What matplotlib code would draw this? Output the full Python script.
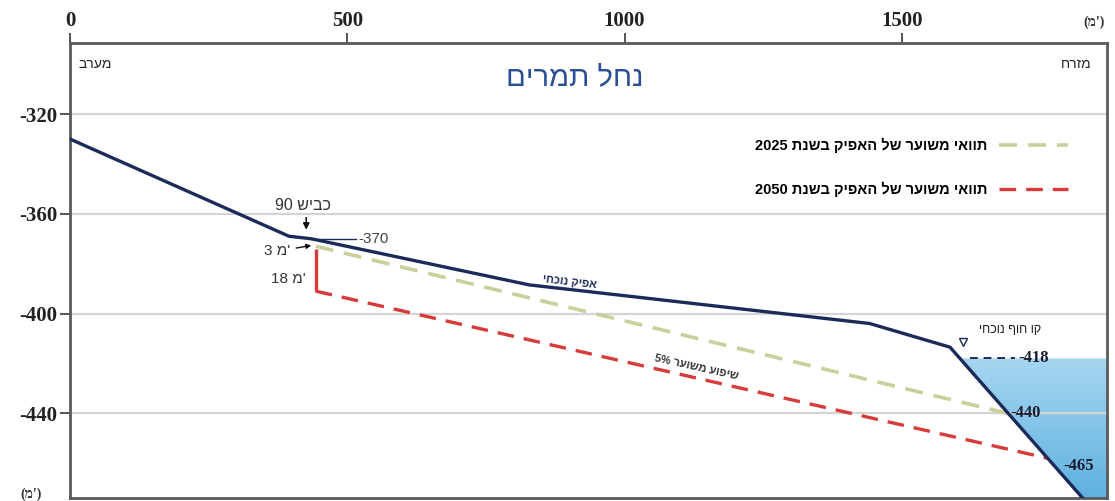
import re
import numpy as np
import matplotlib
matplotlib.use("Agg")
import matplotlib.pyplot as plt
from matplotlib.patches import Polygon
from matplotlib.lines import Line2D

# --- data (distance in m, elevation in m) ---
dist = np.array([0, 395, 435, 828, 1442, 1587, 1830])
bed_now = np.array([-330, -369, -370, -388.5, -404, -413.5, -475])

road_x = 426          # כביש 90
road_level = -370

x_2025 = [443, 1690]
y_2025 = [-373, -440]

drop_x = [443, 443]
drop_y = [-374, -391]
x_2050 = [443, 1762]
y_2050 = [-391, -458]

shore_level = -418
xticks = [0, 500, 1000, 1500]
yticks = [-320, -360, -400, -440]

NAVY = "#1c2a5a"
GREEN = "#cbcf9c"
RED = "#d83a3a"


def rtl(s):
    # matplotlib has no bidi: put hebrew into visual order, keep numbers as they are
    return re.sub(r"[0-9.%]+", lambda m: m.group(0)[::-1], s[::-1])


plt.rcParams["font.family"] = ["Liberation Sans", "DejaVu Sans"]
plt.rcParams["axes.unicode_minus"] = False

fig = plt.figure(figsize=(11.15, 5.01), dpi=100)
ax = fig.add_axes([0.0628, 0.006, 0.930, 0.908])

# water body east of the current shoreline
x_shore = np.interp(shore_level, bed_now[::-1], dist[::-1])
wx = np.concatenate([[x_shore], dist[dist > x_shore], [1870]])
wy = np.interp(wx, dist, bed_now)
verts = list(zip(wx, wy)) + [(1870, shore_level), (x_shore, shore_level)]
water = Polygon(verts, closed=True, facecolor="none", edgecolor="none")
ax.add_patch(water)
grad = np.linspace(0, 1, 100).reshape(-1, 1)
img = ax.imshow(grad, cmap=matplotlib.colors.LinearSegmentedColormap.from_list(
    "w", ["#a6d6f0", "#5fb1e0"]), extent=[x_shore, 1870, -474, shore_level],
    origin="upper", aspect="auto", zorder=1)
img.set_clip_path(water)

ax.grid(axis="y", color="#d4d4d4", lw=1.6, zorder=0)

# scenarios
ax.plot(x_2025, y_2025, color=GREEN, lw=2.6, dashes=(5, 3), zorder=3)
ax.plot(drop_x, drop_y, color=RED, lw=2.4, solid_capstyle="butt", zorder=3)
ax.plot(x_2050, y_2050, color=RED, lw=2.4, dashes=(5, 3), zorder=3)

# current channel
ax.plot(dist, bed_now, color=NAVY, lw=2.4, zorder=4, solid_joinstyle="round")

# shoreline
ax.plot([x_shore + 18, x_shore + 100], [shore_level, shore_level], color=NAVY,
        lw=1.4, dashes=(4, 3), zorder=4)
ax.plot([x_shore + 5], [shore_level + 6.5], marker="v", ms=6, mfc="white",
        mec=NAVY, mew=1, zorder=5)
ax.text(x_shore + 35, shore_level + 11.5, rtl("קו חוף נוכחי"), fontsize=9,
        color="#222222", ha="left", va="center")

ser = dict(family=["Liberation Serif", "DejaVu Sans"], weight="bold", color="#1a1a2e")
ax.text(x_shore + 105, shore_level, "-418", fontsize=12, va="center", ha="left", **ser)
ax.text(x_2025[1] + 5, y_2025[1], "-440", fontsize=12, va="center", ha="left", **ser)
ax.text(x_2050[1] + 30, y_2050[1] - 3, "-465", fontsize=12, va="center", ha="left", **ser)

# road 90
ax.annotate("", xy=(road_x, road_level + 2.5), xytext=(road_x, road_level + 9.5),
            arrowprops=dict(arrowstyle="-|>", color="#111111", lw=1.2,
                            mutation_scale=9))
ax.text(road_x - 5, road_level + 13.5, rtl("כביש 90"), fontsize=11.5, ha="center",
        va="center", color="#333333")
ax.plot([435, 515], [road_level, road_level], color=NAVY, lw=1, zorder=4)
ax.text(520, road_level, "-370", fontsize=11, ha="left", va="center", color="#444444")

ax.annotate("3 מ'", xy=(440, y_2025[0] + 0.5), xytext=(398, y_2025[0] - 2),
            fontsize=11, ha="right", va="center", color="#333333",
            arrowprops=dict(arrowstyle="-|>", color="#111111", lw=1,
                            mutation_scale=7))
ax.text(425, -386, "18 מ'", fontsize=11, ha="right", va="center", color="#333333")

# labels along the lines
ax.text(900, -387.5, rtl("אפיק נוכחי"), fontsize=8, color=NAVY, rotation=-6.5,
        ha="center", va="center", fontweight="bold")
ax.text(1129, -421.5, rtl("שיפוע משוער 5%"), fontsize=8, color="#333333",
        rotation=-12.5, ha="center", va="center", fontweight="bold")

# legend (rtl: text before the sample)
handles = [Line2D([], [], color=GREEN, lw=2.6, dashes=(5, 3)),
           Line2D([], [], color=RED, lw=2.4, dashes=(5, 3))]
labels = [rtl("תוואי משוער של האפיק בשנת 2025"), rtl("תוואי משוער של האפיק בשנת 2050")]
ax.legend(handles, labels, loc="upper right", bbox_to_anchor=(0.969, 0.808),
          markerfirst=False, frameon=False, labelspacing=1.95, handlelength=4.7,
          handletextpad=0.8, borderpad=0, prop=dict(size=10.5, weight="bold"))

# titles / directions
ax.text(0.487, 0.923, rtl("נחל תמרים"), transform=ax.transAxes, fontsize=21,
        color="#2a4f95", ha="center", va="center")
ax.text(0.008, 0.955, rtl("מערב"), transform=ax.transAxes, fontsize=10,
        ha="left", va="center", color="#222222")
ax.text(0.985, 0.955, rtl("מזרח"), transform=ax.transAxes, fontsize=10,
        ha="right", va="center", color="#222222")
fig.text(0.981, 0.955, "(מ')", fontsize=10, ha="center", va="center",
         family=["Liberation Serif", "DejaVu Sans"], fontweight="bold", color="#333333")
fig.text(0.028, 0.014, "(מ')", fontsize=10, ha="center", va="center",
         family=["Liberation Serif", "DejaVu Sans"], fontweight="bold", color="#333333")

# axes
ax.set_xlim(0, 1870)
ax.set_ylim(-474, -291.5)
ax.xaxis.tick_top()
ax.set_xticks(xticks)
ax.set_yticks(yticks)
ax.tick_params(axis="both", length=7, width=1.4, color="#555555", pad=2)
for lab in ax.get_xticklabels() + ax.get_yticklabels():
    lab.set_fontfamily("Liberation Serif")
    lab.set_fontweight("bold")
    lab.set_fontsize(15)
    lab.set_color("#222222")
for sp in ax.spines.values():
    sp.set_color("#5a5a5a")
    sp.set_linewidth(2)

fig.savefig("out.png", dpi=100)
